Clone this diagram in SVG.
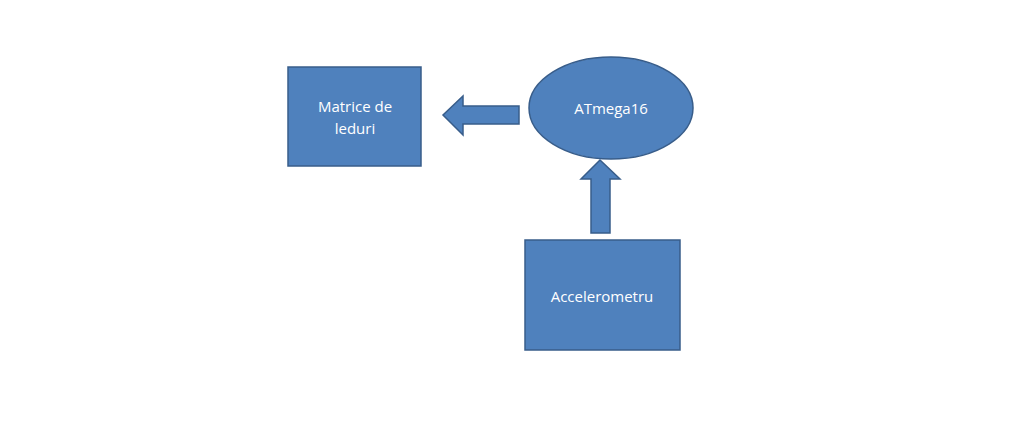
<svg xmlns="http://www.w3.org/2000/svg" width="1017" height="426" viewBox="0 0 1017 426">
<style>
.shape{fill:#4F81BD;stroke:#385D8A;stroke-width:1.5}
.lbl{font-family:"Open Sans","Liberation Sans",sans-serif;font-size:15px;fill:#ffffff;text-anchor:middle}
</style>
<rect width="1017" height="426" fill="#ffffff"/>
<g id="connectors">
<polygon class="shape" points="519,106 463,106 463,96 443,115 463,135 463,124 519,124"/>
<polygon class="shape" points="591,233 591,179 581,179 600,160 620,179 610,179 610,233"/>
</g>
<g id="matrice">
<rect class="shape" x="288" y="67" width="133" height="99"/>
<text class="lbl" x="355" y="112">Matrice de</text>
<text class="lbl" x="355" y="134">leduri</text>
</g>
<g id="atmega">
<ellipse class="shape" cx="611" cy="108" rx="82" ry="51"/>
<text class="lbl" x="611" y="114">ATmega16</text>
</g>
<g id="accelerometru">
<rect class="shape" x="525" y="240" width="155" height="110"/>
<text class="lbl" x="602" y="302">Accelerometru</text>
</g>
</svg>
